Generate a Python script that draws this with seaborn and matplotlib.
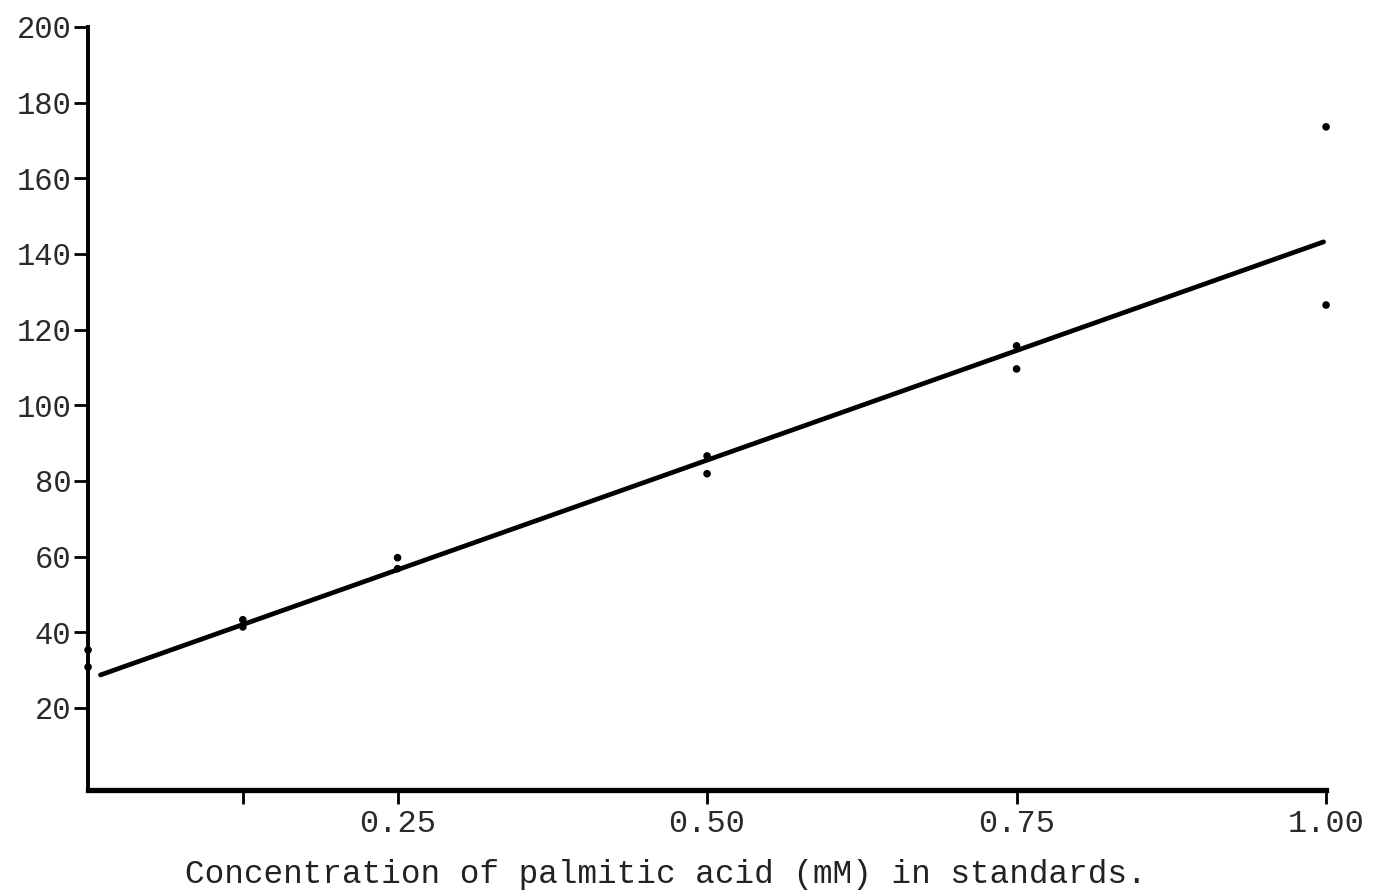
import numpy as np
import pandas as pd
import matplotlib
matplotlib.use("Agg")
import matplotlib.pyplot as plt
import seaborn as sns

# duplicate standards
conc = [0.0, 0.0, 0.125, 0.125, 0.25, 0.25, 0.5, 0.5, 0.75, 0.75, 1.0, 1.0]
response = [35.3, 30.8, 43.3, 41.4, 59.7, 56.8, 86.6, 81.9, 115.7, 109.6, 173.6, 126.5]

# fitted line, endpoints as drawn
fit_x = [0.01, 0.998]
fit_y = [28.7, 143.2]

y_ticks = [20, 40, 60, 80, 100, 120, 140, 160, 180, 200]
x_ticks = [0.125, 0.25, 0.5, 0.75, 1.0]
x_labels = ["", "0.25", "0.50", "0.75", "1.00"]

sns.set_theme(style="white")
plt.rcParams['font.family'] = ['Liberation Mono', 'DejaVu Sans']

fig = plt.figure(figsize=(14, 8.91), dpi=100)
ax = fig.add_axes([0.0629, 0.1134, 0.8843, 0.8563])

pts = pd.DataFrame({"conc": conc, "response": response})
fit = pd.DataFrame({"conc": fit_x, "response": fit_y})

sns.lineplot(data=fit, x="conc", y="response", ax=ax, color="black", linewidth=3.4)
sns.scatterplot(data=pts, x="conc", y="response", ax=ax, color="black", s=30,
                edgecolor="none", clip_on=False, zorder=5)

ax.set_xlim(0, 1.0)
ax.set_ylim(-1.7, 200)
ax.set_xticks(x_ticks)
ax.set_xticklabels(x_labels, fontsize=23, color="#2a2a2a")
ax.set_yticks(y_ticks)
ax.set_yticklabels([str(t) for t in y_ticks], fontsize=22, color="#2a2a2a")
ax.tick_params(axis="both", direction="out", length=10, width=2, color="black",
               left=True, bottom=True, pad=2)
ax.tick_params(axis="x", pad=4)

for side in ["top", "right"]:
    ax.spines[side].set_visible(False)
ax.spines["left"].set_linewidth(2.8)
ax.spines["bottom"].set_linewidth(3.8)
ax.spines["left"].set_color("black")
ax.spines["bottom"].set_color("black")

ax.set_xlabel("Concentration of palmitic acid (mM) in standards.", fontsize=23.5,
              color="#222222")
ax.xaxis.set_label_coords(0.467, -0.09)
ax.set_ylabel("")

fig.savefig("out.png", dpi=100, facecolor="white")
